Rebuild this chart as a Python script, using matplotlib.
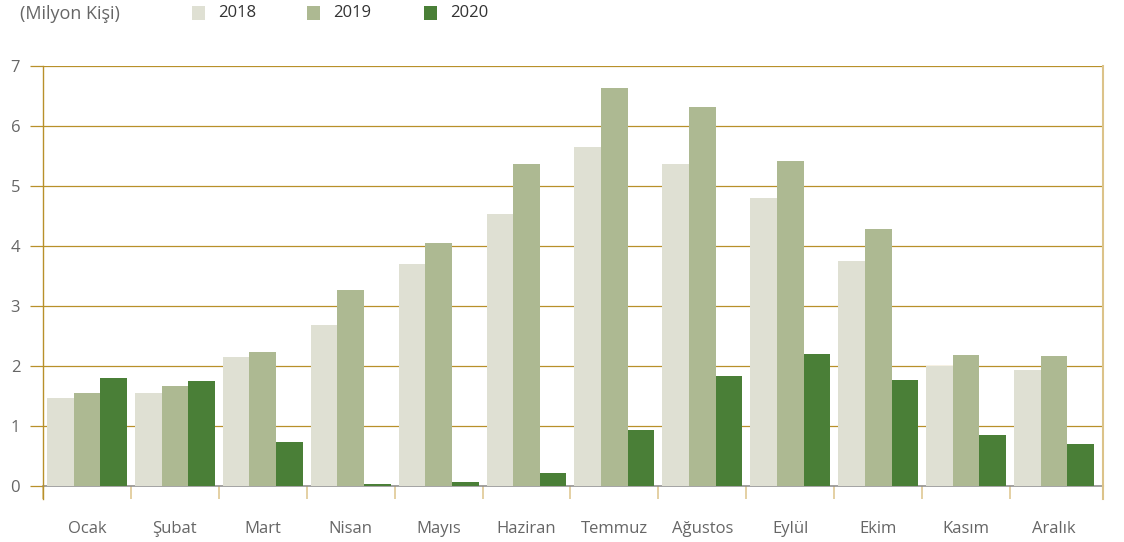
import matplotlib
matplotlib.use("Agg")
import matplotlib.pyplot as plt
from matplotlib.patches import Rectangle
import numpy as np

plt.rcParams['font.family'] = ['Open Sans', 'DejaVu Sans']

months = ["Ocak", "Şubat", "Mart", "Nisan", "Mayıs", "Haziran", "Temmuz",
          "Ağustos", "Eylül", "Ekim", "Kasım", "Aralık"]
years = ["2018", "2019", "2020"]
v2018 = [1.47, 1.55, 2.15, 2.68, 3.70, 4.53, 5.65, 5.37, 4.80, 3.75, 2.00, 1.93]
v2019 = [1.55, 1.67, 2.23, 3.27, 4.05, 5.37, 6.63, 6.32, 5.42, 4.28, 2.18, 2.17]
v2020 = [1.80, 1.75, 0.73, 0.04, 0.07, 0.22, 0.93, 1.83, 2.20, 1.77, 0.85, 0.70]
unit_label = "(Milyon Kişi)"
yticks = [0, 1, 2, 3, 4, 5, 6, 7]

colors = ["#dfe0d3", "#adb992", "#4a7f37"]
gold = "#b8902a"
light_gold = "#dcc38a"
text_col = "#666666"

W, H = 1124, 542
fig = plt.figure(figsize=(W / 100, H / 100), dpi=100)
ax = fig.add_axes([43 / W, (H - 486) / H, (1103 - 43) / W, (486 - 66) / H])

x = np.arange(len(months))
bw = 0.303
for i, (vals, c) in enumerate(zip([v2018, v2019, v2020], colors)):
    ax.bar(x + (i - 1) * bw, vals, width=bw, color=c, zorder=3, linewidth=0)

ax.set_xlim(-0.5, len(months) - 0.443)
ax.set_ylim(0, 7)

# horizontal grid, extended to the left as tick marks
ax.set_yticks(yticks)
ax.yaxis.grid(True, color=gold, linewidth=0.9, zorder=1)
ax.tick_params(axis='y', length=9.4, width=0.9, color=gold, pad=7,
               labelsize=12, labelcolor=text_col)

# category labels centered, boundary ticks below the baseline
ax.set_xticks(x)
ax.set_xticklabels(months)
ax.tick_params(axis='x', which='major', length=0, pad=25, labelsize=12,
               labelcolor=text_col)
ax.set_xticks(np.arange(-0.5, len(months) - 1), minor=True)
ax.tick_params(axis='x', which='minor', length=9.4, width=1.1, color=light_gold)

ax.spines['top'].set_visible(False)
ax.spines['left'].set_color(gold)
ax.spines['left'].set_linewidth(1.0)
ax.spines['right'].set_color(light_gold)
ax.spines['right'].set_linewidth(1.5)
ax.spines['bottom'].set_color("#8a8a8a")
ax.spines['bottom'].set_linewidth(1.1)
ax.spines['bottom'].set_zorder(2)

# extend the vertical frame lines below the baseline
for xpos, c, lw in [(43, gold, 1.0), (1103, light_gold, 1.5)]:
    fig.add_artist(plt.Line2D([xpos / W, xpos / W], [(H - 499) / H, (H - 486) / H],
                              color=c, linewidth=lw))

# header: unit label and legend
fig.text(20 / W, (H - 14) / H, unit_label, fontsize=13, color=text_col,
         ha='left', va='center')
for sx, tx, lab, c in zip([198, 313, 430], [218, 333, 450], years, colors):
    fig.add_artist(Rectangle(((sx - 6.5) / W, (H - 19.5) / H), 13 / W, 13 / H,
                             facecolor=c, edgecolor='none', transform=fig.transFigure))
    fig.text(tx / W, (H - 13) / H, lab, fontsize=12, color="#333333",
             ha='left', va='center')

fig.savefig("out.png", dpi=100)
